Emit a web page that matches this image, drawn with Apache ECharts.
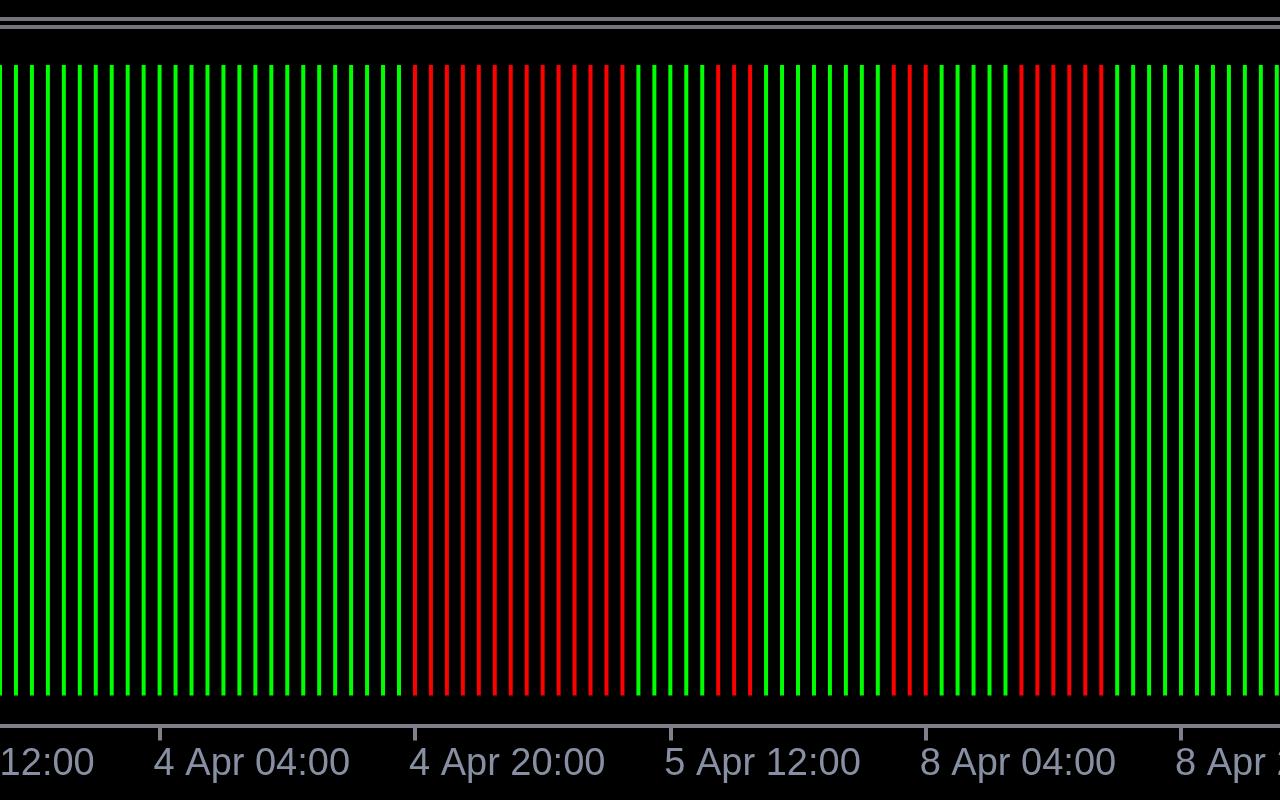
<!DOCTYPE html>
<html>
<head>
<meta charset="utf-8">
<style>
html,body{margin:0;padding:0;background:#000000;}
#chart{width:1280px;height:800px;}
</style>
<script src="https://cdn.jsdelivr.net/npm/echarts@6/dist/echarts.min.js"></script>
</head>
<body>
<div id="chart"></div>
<script>
// Hourly bar times (first six are off-screen, before the first visible bar)
const categories = [
  "3 Apr 12:00","3 Apr 13:00","3 Apr 14:00","3 Apr 15:00","3 Apr 16:00","3 Apr 17:00",
  "3 Apr 18:00","3 Apr 19:00","3 Apr 20:00","3 Apr 21:00","3 Apr 22:00","3 Apr 23:00",
  "4 Apr 00:00","4 Apr 01:00","4 Apr 02:00","4 Apr 03:00","4 Apr 04:00","4 Apr 05:00",
  "4 Apr 06:00","4 Apr 07:00","4 Apr 08:00","4 Apr 09:00","4 Apr 10:00","4 Apr 11:00",
  "4 Apr 12:00","4 Apr 13:00","4 Apr 14:00","4 Apr 15:00","4 Apr 16:00","4 Apr 17:00",
  "4 Apr 18:00","4 Apr 19:00","4 Apr 20:00","4 Apr 21:00","4 Apr 22:00","4 Apr 23:00",
  "5 Apr 00:00","5 Apr 01:00","5 Apr 02:00","5 Apr 03:00","5 Apr 04:00","5 Apr 05:00",
  "5 Apr 06:00","5 Apr 07:00","5 Apr 08:00","5 Apr 09:00","5 Apr 10:00","5 Apr 11:00",
  "5 Apr 12:00","5 Apr 13:00","5 Apr 14:00","5 Apr 15:00","5 Apr 16:00","5 Apr 17:00",
  "5 Apr 18:00","5 Apr 19:00","5 Apr 20:00","5 Apr 21:00","5 Apr 22:00","5 Apr 23:00",
  "8 Apr 00:00","8 Apr 01:00","8 Apr 02:00","8 Apr 03:00","8 Apr 04:00","8 Apr 05:00",
  "8 Apr 06:00","8 Apr 07:00","8 Apr 08:00","8 Apr 09:00","8 Apr 10:00","8 Apr 11:00",
  "8 Apr 12:00","8 Apr 13:00","8 Apr 14:00","8 Apr 15:00","8 Apr 16:00","8 Apr 17:00",
  "8 Apr 18:00","8 Apr 19:00","8 Apr 20:00","8 Apr 21:00","8 Apr 22:00","8 Apr 23:00",
  "9 Apr 00:00","9 Apr 01:00","9 Apr 02:00"
];

// Histogram signal per bar: 1 = up (green), -1 = down (red), null = no bar on screen
const signal = [
  null,null,null,null,null,null,
  1,1,1,1,1,1,1,1,1,1,1,1,1,1,1,1,1,1,1,1,1,1,1,1,1,1,
  -1,-1,-1,-1,-1,-1,-1,-1,-1,-1,-1,-1,-1,-1,
  1,1,1,1,1,
  -1,-1,-1,
  1,1,1,1,1,1,1,1,
  -1,-1,-1,
  1,1,1,1,1,
  -1,-1,-1,-1,-1,-1,
  1,1,1,1,1,1,1,1,1,1,1
];

// Labelled time ticks on the axis
const tickLabels = ["3 Apr 12:00","4 Apr 04:00","4 Apr 20:00","5 Apr 12:00","8 Apr 04:00","8 Apr 20:00"];

const UP = '#00ff00', DOWN = '#ff0000';
const barData = signal.map(s => s === null ? null :
  { value: Math.abs(s), itemStyle: { color: s > 0 ? UP : DOWN } });

const isTick = (idx) => tickLabels.indexOf(categories[idx]) !== -1;

const w = 15.96;
const gridLeft = -6.5 * w;
const gridWidth = categories.length * w;

const chart = echarts.init(document.getElementById('chart'), null, { renderer: 'canvas' });
chart.setOption({
  backgroundColor: '#000000',
  animation: false,
  grid: [
    { left: gridLeft, width: gridWidth, top: 65, bottom: 74.5, containLabel: false, outerBoundsMode: 'none' },
    { left: 0, right: 0, top: 19, height: 8, outerBoundsMode: 'none' }
  ],
  xAxis: [
    {
      type: 'category',
      gridIndex: 0,
      data: categories,
      boundaryGap: true,
      axisLine: { onZero: false, lineStyle: { color: '#80808a', width: 4 } },
      axisTick: { show: true, alignWithLabel: true, interval: (i) => isTick(i), length: 15,
                  lineStyle: { color: '#80808a', width: 4 } },
      axisLabel: {
        interval: (i) => isTick(i),
        align: 'left',
        color: '#8790a2',
        fontFamily: 'Liberation Sans',
        fontSize: 38,
        margin: 20,
        padding: [0, 0, 0, -6]
      },
      splitLine: { show: false }
    },
    {
      type: 'value', gridIndex: 1, position: 'top', min: 0, max: 1,
      axisLine: { show: true, onZero: false, lineStyle: { color: '#74747e', width: 4 } },
      axisTick: { show: false }, axisLabel: { show: false }, splitLine: { show: false }
    },
    {
      type: 'value', gridIndex: 1, position: 'bottom', min: 0, max: 1,
      axisLine: { show: true, onZero: false, lineStyle: { color: '#74747e', width: 4 } },
      axisTick: { show: false }, axisLabel: { show: false }, splitLine: { show: false }
    }
  ],
  yAxis: [
    { type: 'value', gridIndex: 0, min: -0.0476, max: 1, show: false },
    { type: 'value', gridIndex: 1, min: 0, max: 1, show: false }
  ],
  series: [
    {
      type: 'bar',
      xAxisIndex: 0,
      yAxisIndex: 0,
      data: barData,
      barWidth: 4,
      itemStyle: { color: UP }
    }
  ]
});
</script>
</body>
</html>
